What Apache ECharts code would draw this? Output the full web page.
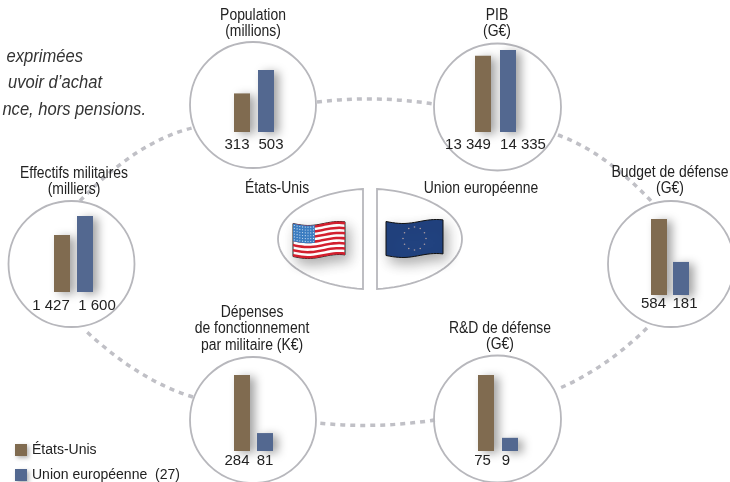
<!DOCTYPE html>
<html><head><meta charset="utf-8">
<style>html,body{margin:0;padding:0;background:#fff}#c{width:730px;height:482px}</style>
<script src="https://cdn.jsdelivr.net/npm/echarts@6/dist/echarts.min.js"></script>
</head><body><div id="c"></div>
<script>
// ---- data ----
const usName = 'États-Unis';
const euName = 'Union européenne  (27)';
const metrics = ['Population\n(millions)', 'PIB\n(G€)', 'Budget de défense\n(G€)', 'R&D de défense\n(G€)', 'Dépenses\nde fonctionnement\npar militaire (K€)', 'Effectifs militaires\n(milliers)'];
// Printed figures, shown as text exactly as in the reference.
const usLabels = ['313', '13 349', '584', '75', '284', '1 427'];
const euLabels = ['503', '14 335', '181', '9', '81', '1 600'];
// Bar lengths as drawn in the reference. Its bars are schematic and not all in
// proportion to the printed figures, so some differ from the labels above
// (budget EU, R&D EU, dépenses EU, effectifs US).
const usBars = [313, 13349, 584, 75, 284, 1200];
const euBars = [503, 14335, 254, 13, 67, 1600];

// ---- layout and style ----
const FONT = '"Liberation Sans"';
const BROWN = '#806b50', BLUE = '#536890', RING = '#b7b7bc', DASH = '#c0c0c6', TXT = '#222';
const panels = [
  {cx:253,   cy:105, r:63,   center:254, bottom:132, h:62, gap:8, tx:253, ty:7,   us:[-5,5],    eu:[5,5]},
  {cx:497.5, cy:107, r:63.5, center:495.5, bottom:132, h:82, gap:9, tx:497, ty:7, us:[-15,5],   eu:[15,5]},
  {cx:671,   cy:264, r:63,   center:670, bottom:295, h:76, gap:6, tx:670, ty:164, us:[-5.5,1],  eu:[4,1]},
  {cx:497.5, cy:419, r:63.5, center:498, bottom:451, h:76, gap:8, tx:500, ty:320, us:[-3.5,2],  eu:[-4,2]},
  {cx:253,   cy:420, r:63,   center:253.5, bottom:451, h:76, gap:7, tx:252, ty:304, us:[-5,2],  eu:[0,2]},
  {cx:71.5,  cy:264, r:63,   center:73.5, bottom:292, h:76, gap:7, tx:74, ty:165, us:[-11,6],   eu:[12,6]}
];
const arcs = [
  [317,102, 434,104, 375,95],
  [80,201, 192,128, 136,142],
  [558,135, 652,202, 605,152],
  [647,328, 560,388, 606,368],
  [435,420, 318,423, 376,429],
  [193,397, 87,332, 140,381]
];
const shadow = {shadowBlur:10, shadowColor:'rgba(0,0,0,.36)', shadowOffsetX:5, shadowOffsetY:2};

const graphic = [];
arcs.forEach(a => graphic.push({type:'bezierCurve', silent:true, z:1,
  shape:{x1:a[0],y1:a[1],x2:a[2],y2:a[3],cpx1:a[4],cpy1:a[5]},
  style:{stroke:DASH,lineWidth:3.5,lineDash:[5,5],fill:null}}));
panels.forEach(p => graphic.push({type:'circle', silent:true, z:1,
  shape:{cx:p.cx,cy:p.cy,r:p.r}, style:{stroke:RING,lineWidth:1.8,fill:null}}));
// the two half-lens frames round the flags
function lens(xFlat, xOut){
  const pts=[], xc=xFlat+(xOut-xFlat)*0.56;
  const cub=(a,b,c,d,t)=>(1-t)**3*a+3*(1-t)**2*t*b+3*(1-t)*t*t*c+t*t*t*d;
  for(let i=0;i<=24;i++){const t=i/24; pts.push([cub(xFlat,xc,xOut,xOut,t),cub(189,192,213,239,t)]);}
  for(let i=1;i<=24;i++){const t=i/24; pts.push([cub(xOut,xOut,xc,xFlat,t),cub(239,265,286,289,t)]);}
  graphic.push({type:'polygon',silent:true,z:1,shape:{points:pts},style:{stroke:RING,lineWidth:1.8,fill:'#fff'}});
}
lens(363,278); lens(377,462);

// flags (decoration)
const wave = t => 2*Math.sin(Math.PI*t*1.7);
function band(x0,w,y0,y1,t0,t1){
  const pts=[], n=18;
  for(let i=0;i<=n;i++){const t=t0+(t1-t0)*i/n; pts.push([x0+w*t,y0+wave(t)]);}
  for(let i=n;i>=0;i--){const t=t0+(t1-t0)*i/n; pts.push([x0+w*t,y1+wave(t)]);}
  return pts;
}
const flagShadow={shadowBlur:13,shadowColor:'rgba(0,0,0,.32)',shadowOffsetX:4,shadowOffsetY:6};
function poly(points,fill,extra){graphic.push({type:'polygon',silent:true,z:2,shape:{points},style:Object.assign({fill},extra||{})});}
// US
const ux=293, uw=52, uy=223.5, uh=33;
poly(band(ux,uw,uy,uy+uh,0,1),'#fff',Object.assign({stroke:'#222',lineWidth:1},flagShadow));
for(let i=0;i<13;i+=2){poly(band(ux,uw,uy+uh*i/13,uy+uh*(i+1)/13,0,1),'#d21f2e');}
poly(band(ux,uw,uy,uy+uh*7/13,0,0.42),'#3a7cc0');
for(let r=0;r<6;r++)for(let c=0;c<8;c++){
  const t=(c+0.5)/8*0.42; 
  graphic.push({type:'circle',silent:true,z:3,shape:{cx:ux+uw*t,cy:uy+wave(t)+(r+0.6)/6.2*uh*7/13,r:0.6},style:{fill:'#cfe0f2'}});
}
// EU
const ex=386, ew=57, ey=221.5, eh=34;
poly(band(ex,ew,ey,ey+eh,0,1),'#21427f',Object.assign({stroke:'#111',lineWidth:1},flagShadow));
for(let i=0;i<12;i++){
  const a=i/12*2*Math.PI;
  graphic.push({type:'circle',silent:true,z:3,shape:{cx:414.5+11.5*Math.cos(a),cy:238.5+11.5*Math.sin(a),r:0.8},style:{fill:'#a89aa0'}});
}

// note, clipped on its left in the reference
[['exprimées',83,57],['uvoir d’achat',102,83],['nce, hors pensions.',146,110]].forEach(n=>graphic.push({
  type:'text',silent:true,z:5,x:n[1],y:n[2],scaleX:0.92,
  style:{text:n[0],align:'right',verticalAlign:'middle',fill:'#333',font:'italic 18px '+FONT}}));

// condensed captions: real text, narrowed to the reference's width
function caption(text,x,y){graphic.push({type:'text',silent:true,z:5,x,y,scaleX:0.87,
  style:{text,align:'center',verticalAlign:'top',fill:TXT,font:'16px '+FONT,lineHeight:16.5}});}
metrics.forEach((m,i)=>caption(m,panels[i].tx,panels[i].ty));
caption('États-Unis',277,180);
caption('Union européenne',481,180);

const grid=[], xAxis=[], yAxis=[], series=[];
panels.forEach((p,i)=>{
  grid.push({left:p.center-30,width:60,top:p.bottom-p.h,height:p.h,containLabel:false});
  xAxis.push({type:'category',gridIndex:i,data:[metrics[i].split('\n')[0]],show:false});
  yAxis.push({type:'value',gridIndex:i,min:0,max:Math.max(usBars[i],euBars[i]),show:false});
  const mk=(name,val,color,lab,off,extra)=>Object.assign({type:'bar',name,xAxisIndex:i,yAxisIndex:i,barWidth:16,
    data:[val],z:3,itemStyle:Object.assign({color},shadow),
    label:{show:true,position:'bottom',distance:0,offset:off,formatter:lab,fontFamily:FONT,fontSize:15,fontWeight:'normal',color:TXT}},extra||{});
  series.push(mk(usName,usBars[i],BROWN,usLabels[i],p.us,{barGap:(p.gap/16*100)+'%'}));
  series.push(mk(euName,euBars[i],BLUE,euLabels[i],p.eu,{barGap:(p.gap/16*100)+'%'}));
});

const chart = echarts.init(document.getElementById('c'),null,{renderer:'canvas'});
chart.setOption({
  animation:false, backgroundColor:'#fff', tooltip:{show:false},
  grid, xAxis, yAxis, series, graphic,
  legend:{data:[{name:usName},{name:euName}],orient:'vertical',left:15,top:443,height:60,itemWidth:12,itemHeight:12,itemGap:11,icon:'rect',padding:0,
    itemStyle:{shadowBlur:4,shadowColor:'rgba(0,0,0,.3)',shadowOffsetX:2,shadowOffsetY:2},
    textStyle:{fontFamily:FONT,fontSize:14,fontWeight:'normal',color:TXT}}
});
</script></body></html>
